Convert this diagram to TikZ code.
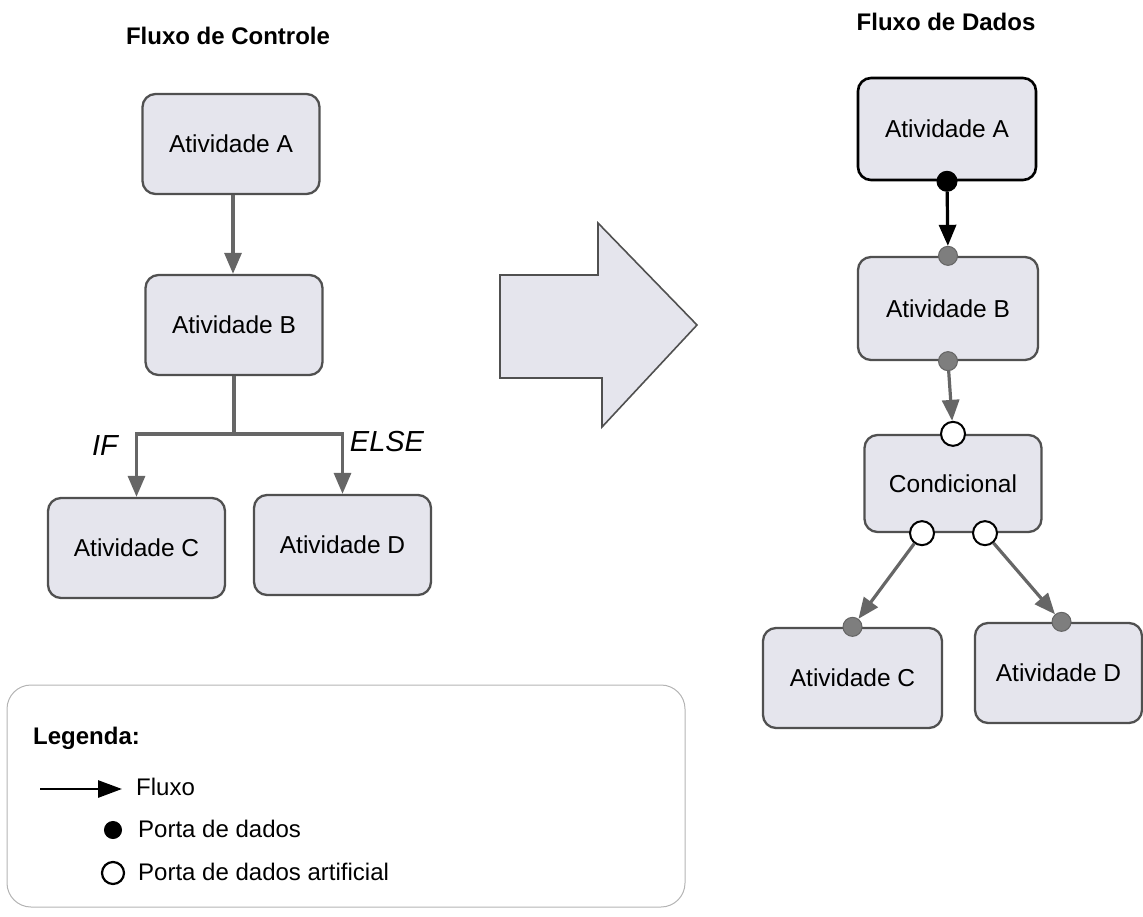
\documentclass[tikz,border=0pt]{standalone}
\usepackage{fontspec}
\setmainfont{Liberation Sans}
\usetikzlibrary{arrows.meta}
\definecolor{boxfill}{HTML}{E5E5ED}
\definecolor{boxline}{HTML}{505050}
\definecolor{flowgray}{HTML}{666666}
\definecolor{portgray}{HTML}{7E7E7E}
\definecolor{legendline}{HTML}{B4B4B4}
\begin{document}
\begin{tikzpicture}[x=1pt,y=-1pt,
  actbox/.style={draw=boxline, fill=boxfill, rounded corners=13pt, line width=2.3pt,
    minimum width=177pt, minimum height=100pt, inner sep=0pt,
    font=\fontsize{24.5}{28}\selectfont},
  title/.style={font=\bfseries\fontsize{24}{28}\selectfont},
  branchlbl/.style={font=\itshape\fontsize{29}{33}\selectfont},
  legtext/.style={anchor=west, font=\fontsize{24}{28}\selectfont, inner sep=0pt},
  flow/.style={draw=flowgray, line width=3.2pt,
    -{Triangle[length=21pt,width=17pt,fill=flowgray]}},
  blackflow/.style={draw=black, line width=3.2pt,
    -{Triangle[length=21pt,width=17pt,fill=black]}},
  dataport/.style={circle, draw=black, fill=black, minimum size=20pt, inner sep=0pt, line width=1pt},
  inport/.style={circle, draw=portgray!80!black, fill=portgray, minimum size=19pt, inner sep=0pt, line width=1pt},
  artport/.style={circle, draw=black, fill=white, minimum size=24pt, inner sep=0pt, line width=2pt}
]
\useasboundingbox (0,0) rectangle (1143,917);

% ---------- control flow ----------
\node[title] (tctl) at (228,36) {Fluxo de Controle};
\node[actbox] (LA) at (231,144) {Atividade A};
\node[actbox] (LB) at (234,325) {Atividade B};
\node[actbox] (LC) at (136.5,548) {Atividade C};
\node[actbox] (LD) at (342.5,545) {Atividade D};

\draw[flow] (LA.south -| 233,0) -- (LB.north -| 233,0);
\coordinate (split) at (LB.south |- 0,434);
\draw[draw=flowgray, line width=3.2pt] (LB.south) -- (split);
\draw[flow] (split) -| (LC.north);
\draw[flow] (split) -| (LD.north);
\node[branchlbl] (lif) at (105,446) {IF};
\node[branchlbl] (lelse) at (387,442) {ELSE};

% ---------- transformation arrow ----------
\draw[draw=boxline, fill=boxfill, line width=1.6pt, line join=miter]
  (500,275) -- (598,275) -- (598,223) -- (697,325) -- (602,427) -- (602,378) -- (500,378) -- cycle;

% ---------- data flow ----------
\node[title] (tdata) at (946,22) {Fluxo de Dados};
\node[actbox, draw=black, line width=2.6pt, minimum width=178pt, minimum height=102pt] (RA) at (947,129) {Atividade A};
\node[actbox, minimum width=180pt, minimum height=103pt] (RB) at (948,308.5) {Atividade B};
\node[actbox, minimum height=97pt] (RK) at (953,483.5) {Condicional};
\node[actbox, minimum width=179pt] (RC) at (852.5,678) {Atividade C};
\node[actbox, minimum width=167pt] (RD) at (1058.5,673) {Atividade D};

\node[dataport] (pA) at (RA.south) {};
\node[inport] (pBin) at (RB.north) {};
\node[inport] (pBout) at (RB.south) {};
\node[artport] (pKin) at (RK.north) {};
\node[artport] (pKl) at ([xshift=-31pt]RK.south) {};
\node[artport] (pKr) at ([xshift=32pt]RK.south) {};
\node[inport] (pC) at (RC.north) {};
\node[inport] (pD) at ([xshift=3pt]RD.north) {};

\draw[blackflow] (pA) -- (pBin);
\draw[flow] (pBout) -- (pKin);
\draw[flow] (pKl) -- (pC);
\draw[flow] (pKr) -- (pD);

% ---------- legend ----------
\node[draw=legendline, line width=1pt, rounded corners=24pt, minimum width=678pt,
  minimum height=222pt, inner sep=0pt] (legend) at (346,796) {};
\node[anchor=west, inner sep=0pt, font=\bfseries\fontsize{24}{28}\selectfont] (legtitle) at (33,738) {Legenda:};
\coordinate (lf1) at (40,789);
\coordinate (lf2) at (122,789);
\draw[draw=black, line width=2.8pt, -{Triangle[length=24pt,width=17pt,fill=black]}] (lf1) -- (lf2);
\node[legtext] (lfluxo) at (136,787) {Fluxo};
\node[dataport, minimum size=17pt] (ldp) at (113,830) {};
\node[legtext] (ldptxt) at (138,829) {Porta de dados};
\node[artport, minimum size=22pt, line width=2.2pt] (lap) at (113,873) {};
\node[legtext] (laptxt) at (138,872) {Porta de dados artificial};
\end{tikzpicture}
\end{document}
